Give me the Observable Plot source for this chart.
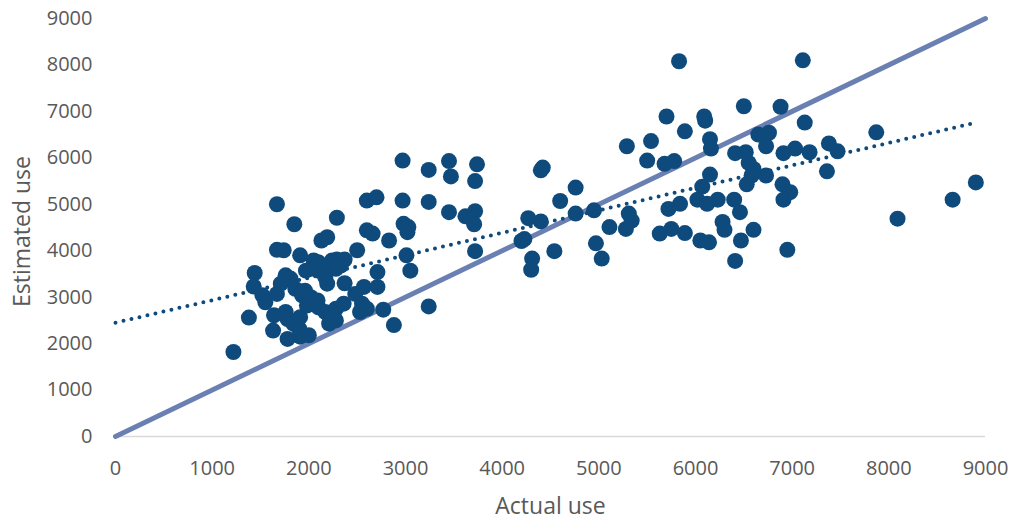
<!DOCTYPE html>
<html>
<head>
<meta charset="utf-8">
<script src="https://cdn.jsdelivr.net/npm/d3@7"></script>
<script src="https://cdn.jsdelivr.net/npm/@observablehq/plot@0.6"></script>
<style>
  html, body { margin: 0; padding: 0; background: #fff; }
  #chart { width: 1015px; height: 525px; }
</style>
</head>
<body>
<div id="chart"></div>
<script>
// Actual use (x) and Estimated use (y) of each observation
const actualUse = [
  1220,1380,1440,1430,1520,1550,1640,1630,1670,1670,1740,1670,1710,1760,1810,1760,1780,1780,1840,1900,
  1910,1910,2000,1850,1910,1860,1930,1970,2020,1960,2020,1980,2050,2100,2090,2100,2130,2190,2240,2290,
  2370,2100,2170,2220,2280,2330,2190,2170,2170,2220,2210,2280,2360,2280,2290,2370,2480,2570,2550,2600,
  2530,2500,2600,2660,2600,2700,2710,2710,2770,2830,2880,2970,2970,2980,3030,3020,3010,3050,3240,3240,
  3240,3450,3470,3450,3620,3720,3710,3740,3720,3720,
  4200,4230,4270,4400,4310,4300,4540,4420,4400,4600,4760,4760,4950,4970,5030,
  5110,5280,5310,5340,5290,5540,5500,5680,5780,5700,5830,5890,5720,5840,5630,5750,5890,6090,6100,6150,
  6160,6150,6070,6020,6120,6230,6280,6300,6050,6140,6400,6460,6470,6600,6410,6500,6410,6520,6550,6600,
  6580,6530,6650,6760,6730,6730,6880,6910,7030,6900,6980,6910,6950,7110,7130,7180,7380,7470,7360,7870,
  8090,8660,8900
];
const estimatedUse = [
  1820,2560,3520,3230,3040,2890,2610,2280,5000,4020,4010,3070,3290,3470,3400,2680,2530,2100,2430,2320,
  2570,2150,2180,4570,3900,3180,3040,3570,3610,3140,3000,2820,3790,3750,2930,2780,4220,4290,3790,3810,
  3810,3570,3610,3720,3610,3680,3290,3430,2680,2500,2430,2750,2860,2500,4710,3300,3070,3220,2860,2750,
  2680,4010,4440,4370,5080,5150,3540,3220,2730,4220,2400,5940,5080,4580,4510,4400,3900,3570,5740,5050,
  2800,5930,5600,4830,4740,4850,4570,5860,5500,3990,
  4210,4250,4700,4630,3830,3590,3990,5790,5730,5070,5360,4800,4870,4160,3830,
  4510,4470,4800,4650,6250,6360,5940,5870,5930,6890,8080,6570,4900,5010,4370,4470,4380,6890,6800,6400,
  6200,5640,5380,5100,5010,5100,4620,4450,4220,4180,5100,4830,4220,4450,3780,7110,6100,6120,5890,5760,
  5620,5430,6500,6540,6250,5620,7100,6100,6200,5430,5260,5100,4020,8100,6760,6120,6310,6140,5710,6550,
  4690,5100,5470
];
// Axis ticks and extents
const axisTicks = [0,1000,2000,3000,4000,5000,6000,7000,8000,9000];
const axisExtent = [0, 9000];
// Linear trendline: estimated = intercept + slope * actual
const trendIntercept = 2450;
const trendSlope = 0.484;

const points = actualUse.map((a, i) => ({actual: a, estimated: estimatedUse[i]}));
const trendX = [0, d3.max(actualUse)];
const trend = trendX.map(x => ({actual: x, estimated: trendIntercept + trendSlope * x}));
const diagonal = axisExtent.map(v => ({actual: v, estimated: v}));

const dotColor = "#0E4B7C";
const lineColor = "#6B80B2";
const textColor = "#595959";

const chart = Plot.plot({
  width: 1015,
  height: 525,
  marginLeft: 115,
  marginRight: 30,
  marginTop: 18,
  marginBottom: 89,
  style: {fontFamily: "'Open Sans', sans-serif", fontSize: "20px", color: textColor, background: "#fff"},
  x: {domain: axisExtent, axis: null},
  y: {domain: axisExtent, axis: null},
  marks: [
    Plot.ruleY([0], {stroke: "#D9D9D9", strokeWidth: 1.5}),
    Plot.axisX(axisTicks, {tickSize: 0, tickPadding: 24, tickFormat: d => String(d), fill: textColor, fontSize: 20, label: null}),
    Plot.axisY(axisTicks, {tickSize: 0, tickPadding: 23, tickFormat: d => String(d), fill: textColor, fontSize: 20, label: null}),
    Plot.line(diagonal, {x: "actual", y: "estimated", stroke: lineColor, strokeWidth: 5}),
    Plot.dot(points, {x: "actual", y: "estimated", r: 8, fill: dotColor, stroke: "none"}),
    Plot.line(trend, {x: "actual", y: "estimated", stroke: dotColor, strokeWidth: 4, strokeDasharray: "0 8.2", strokeLinecap: "round"}),
    Plot.text(["Actual use"], {frameAnchor: "bottom", dy: 70, lineAnchor: "middle", textAnchor: "middle", fontSize: 23, fill: textColor}),
    Plot.text(["Estimated use"], {frameAnchor: "left", dx: -93, dy: 4, lineAnchor: "middle", textAnchor: "middle", rotate: -90, fontSize: 23, fill: textColor})
  ]
});
document.getElementById("chart").appendChild(chart);
</script>
</body>
</html>
